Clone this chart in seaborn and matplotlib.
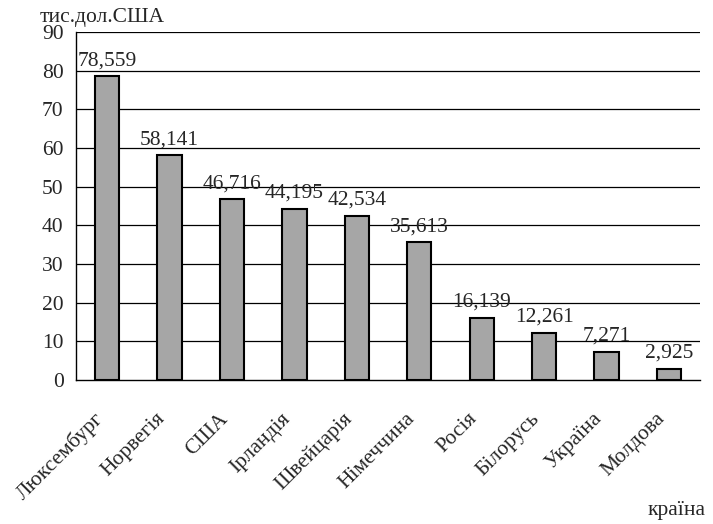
import numpy as np
import pandas as pd
import matplotlib
matplotlib.use("Agg")
import matplotlib.pyplot as plt
import matplotlib.transforms as mtransforms
import seaborn as sns

countries = ["Люксембург", "Норвегія", "США", "Ірландія", "Швейцарія",
             "Німеччина", "Росія", "Білорусь", "Україна", "Молдова"]
values = [78.559, 58.141, 46.716, 44.195, 42.534, 35.613, 16.139, 12.261, 7.271, 2.925]
y_ticks = [0, 10, 20, 30, 40, 50, 60, 70, 80, 90]

sns.set_theme(style="white")
plt.rcParams["font.family"] = ["Liberation Serif", "DejaVu Serif"]
FS = 15.5

df = pd.DataFrame({"country": countries, "value": values})

fig = plt.figure(figsize=(7.13, 5.24), dpi=100)
ax = fig.add_axes([0.1066, 0.2748, 0.8754, 0.6642])

sns.barplot(data=df, x="country", y="value", color="#a6a6a6",
            edgecolor="black", linewidth=1.5, width=0.39, saturation=1, ax=ax)

ax.set_ylim(0, 90)
ax.set_xlim(-0.5, len(countries) - 0.5)
ax.set_yticks(y_ticks)
ax.set_yticklabels([str(t) for t in y_ticks], fontsize=FS)
for t in y_ticks[1:]:
    ax.axhline(t, color="black", linewidth=0.9, zorder=0)

ax.set_xticks(np.arange(len(countries)))
ax.set_xticklabels(countries, rotation=45, ha="right", va="center",
                   rotation_mode="anchor", fontsize=FS)
ax.tick_params(axis="x", length=0, pad=26)
# nudge the rotated labels a little left, like the original
shift = mtransforms.ScaledTranslation(-7 / 100, 0, fig.dpi_scale_trans)
for lab in ax.get_xticklabels():
    lab.set_transform(lab.get_transform() + shift)
# ticks between categories
ax.set_xticks(np.arange(len(countries) + 1) - 0.5, minor=True)
ax.tick_params(axis="x", which="minor", length=7, width=1, color="black", direction="out")
ax.tick_params(axis="y", length=6, width=1, color="black", direction="out", pad=3)

for s in ["top", "right"]:
    ax.spines[s].set_visible(False)
for s in ["left", "bottom"]:
    ax.spines[s].set_color("black")
    ax.spines[s].set_linewidth(1)

for i, v in enumerate(values):
    ax.annotate(f"{v:.3f}".replace(".", ","), (i, v), xytext=(0, 8),
                textcoords="offset points", ha="center", va="baseline", fontsize=FS)

ax.set_xlabel("")
ax.set_ylabel("")
fig.text(0.056, 0.966, "тис.дол.США", fontsize=FS, ha="left", va="center")
fig.text(0.989, 0.025, "країна", fontsize=FS, ha="right", va="center")

fig.savefig("out.png", dpi=100)
